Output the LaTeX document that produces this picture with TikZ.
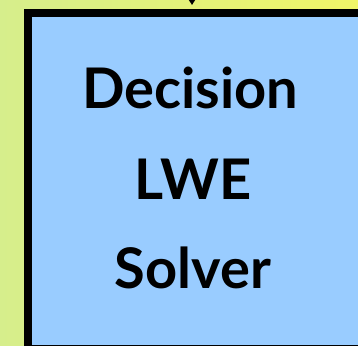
\documentclass[tikz,border=0pt]{standalone}
\usepackage{fontspec}
\setmainfont{Lato}
\usetikzlibrary{arrows.meta}
\definecolor{bgL}{RGB}{214,238,140}
\definecolor{bgR}{RGB}{240,246,104}
\definecolor{boxblue}{RGB}{153,204,255}
\tikzset{
  solverbox/.style={draw=black, line width=8pt, fill=boxblue, minimum width=336pt, minimum height=336pt, inner sep=0pt, anchor=north west},
  label/.style={font=\fontsize{56}{90}\selectfont\bfseries, anchor=base, inner sep=0pt},
  feed/.style={line width=3pt, -{Triangle[length=9pt,width=11pt]}}
}
\begin{document}
\begin{tikzpicture}[x=1pt,y=1pt]
\useasboundingbox (0,0) rectangle (358,-345);
\clip (0,0) rectangle (358,-345);
\shade[left color=bgL, right color=bgR] (0,0) rectangle (358,-345);
\node[solverbox] (box) at (24,-9) {};
\node[label] (t1) at (190,-108) {Decision};
\node[label] (t2) at (193,-199) {LWE};
\node[label] (t3) at (193,-288) {Solver};
\coordinate (src) at (192,20);
\draw[feed] (src) -- ([yshift=4pt]box.north -| src);
\end{tikzpicture}
\end{document}
